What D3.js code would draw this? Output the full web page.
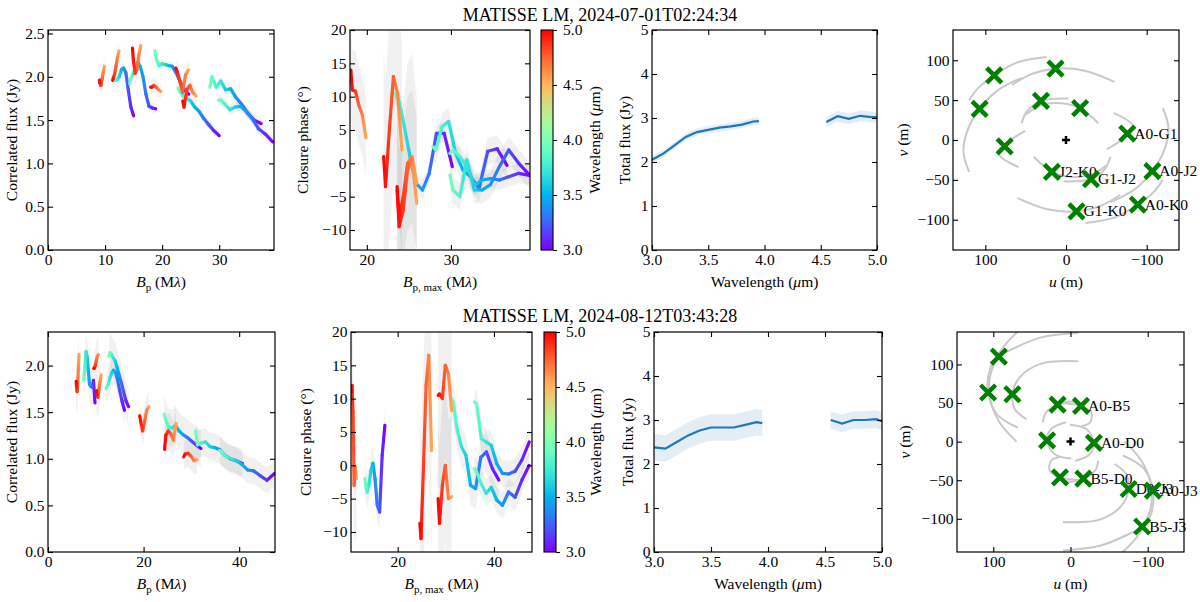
<!DOCTYPE html>
<html>
<head>
<meta charset="utf-8">
<script src="https://cdn.jsdelivr.net/npm/d3@7"></script>
<style>
  body { margin: 0; background: #fff; }
</style>
</head>
<body>
<svg id="fig" width="1200" height="602"></svg>
<script>
// ---- wavelength sampling of the L and M band pieces (micron)
var lamL = [3.0, 3.1, 3.2, 3.3, 3.4, 3.5, 3.6, 3.7, 3.8, 3.9, 3.95];
var lamM = [4.55, 4.65, 4.75, 4.85, 4.95, 5.0];

// ---- 2024-07-01 : correlated flux per baseline (length in m, Jy at each lamL / lamM)
var vis1Names = ["J2-K0", "G1-J2", "A0-G1", "G1-K0", "A0-J2", "A0-K0"];
var vis1Len = [45, 56.6, 74, 90, 112, 118];
var vis1L = [
  [1.55, 1.65, 1.85, 2.05, 2.10, 2.08, 2.00, 1.97, 1.96, 1.98, 2.00],
  [1.63, 1.64, 1.66, 1.80, 2.00, 2.12, 2.17, 2.10, 2.03, 1.98, 1.92],
  [1.80, 1.85, 1.95, 2.05, 2.12, 2.13, 2.14, 2.15, 2.13, 2.20, 2.30],
  [1.32, 1.38, 1.45, 1.52, 1.60, 1.65, 1.72, 1.75, 1.78, 1.83, 1.87],
  [1.46, 1.50, 1.58, 1.68, 1.76, 1.86, 1.85, 1.95, 1.88, 2.00, 1.88],
  [1.25, 1.34, 1.40, 1.52, 1.60, 1.66, 1.65, 1.62, 1.68, 1.73, 1.73]
];
var vis1M = [
  [2.12, 2.05, 1.97, 1.90, 1.93, 1.96],
  [2.30, 2.22, 2.12, 2.03, 1.98, 1.96],
  [2.36, 2.25, 2.08, 2.04, 2.20, 2.33],
  [1.83, 1.85, 1.88, 1.90, 1.88, 1.88],
  [2.08, 2.02, 1.82, 1.95, 2.06, 2.10],
  [1.78, 1.82, 1.90, 1.85, 1.65, 1.72]
];
var vis1ErrL = [0.06, 0.06, 0.05, 0.05, 0.06, 0.06];
var vis1ErrM = [0.10, 0.10, 0.10, 0.08, 0.10, 0.10];

// closure phases per triangle (longest baseline in m, degrees)
var cp1Names = ["G1-J2-K0", "A0-G1-J2", "A0-G1-K0", "A0-J2-K0"];
var cp1Len = [90.5, 110, 118, 118];
var cp1L = [
  [-0.5, 4.5, 4.5, -1.5, -4.0, -3.0, 1.0, 5.5, 9.5, 10.5, 10.2],
  [-0.3, 2.2, 1.8, -3.8, -2.0, -1.0, 1.5, 6.3, 5.5, 2.0, 2.5],
  [-1.75, 0.0, 2.0, -0.5, -3.2, -4.0, -4.0, 0.5, -5.0, -4.0, -1.75],
  [-1.8, -1.5, -2.0, -2.5, -2.3, -2.5, -3.3, -0.5, 1.0, 2.0, 1.5]
];
var cp1M = [
  [3.8, 7.3, 8.7, 10.8, 11.0, 14.0],
  [2.0, 10.5, 13.0, 5.0, -3.5, 1.0],
  [-6.0, 0.5, -1.0, -7.0, -9.5, -4.0],
  [-3.0, 1.0, 0.0, -5.0, -8.0, -3.5]
];
var cp1ErrL = [1.5, 2.0, 2.0, 1.5];
var cp1ErrM = [6, 16, 16, 10];

// total flux (Jy)
var flux1L = [2.05, 2.19, 2.38, 2.57, 2.68, 2.73, 2.78, 2.81, 2.85, 2.92, 2.93];
var flux1M = [2.91, 3.04, 2.98, 3.05, 3.02, 3.02];
var flux1Err = [0.08, 0.12];

// uv coverage (m) and tracks
var uv1Names = ["A0-G1", "A0-J2", "A0-K0", "G1-K0", "J2-K0", "G1-J2"];
var uv1U = [-76, -107, -89, -13, 17.5, -31];
var uv1V = [8, -39, -81, -89.5, -40, -49];
var uv1Tracks = [
  [[-58.8, 34], [-82.7, 18.2], [-76, 8], [-65, -2.5], [-50.6, -11.6]],
  [[-55, -78], [-85, -62], [-107, -39], [-122, -12], [-127, 15], [-120, 40]],
  [[-120, -50], [-108, -66], [-89, -81], [-61, -97], [-24, -104]],
  [[60, -73], [23, -87], [-13, -89.5], [-42, -83], [-67, -69]],
  [[40, -21], [17.5, -40], [-5, -46], [-30, -44], [-50, -32]],
  [[3, -52], [-31, -49], [-48.6, -35.6], [-55, -21]]
];

// ---- 2024-08-12
var vis2Names = ["A0-D0", "A0-B5", "B5-D0", "D0-J3", "A0-J3", "B5-J3"];
var vis2Len = [29.5, 48, 50.6, 96, 122, 142];
var vis2L = [
  [1.60, 1.84, 1.77, 1.78, 1.80, 1.95, 2.10, 2.15, 2.00, 1.90, 1.84],
  [1.52, 1.62, 1.73, 1.85, 1.93, 1.95, 1.92, 1.87, 1.80, 1.77, 1.75],
  [1.56, 1.62, 1.72, 1.82, 1.90, 1.98, 2.05, 2.08, 2.12, 2.14, 2.10],
  [1.11, 1.15, 1.19, 1.23, 1.26, 1.30, 1.36, 1.33, 1.34, 1.42, 1.48],
  [0.95, 0.98, 1.00, 1.04, 1.10, 1.12, 1.13, 1.18, 1.17, 1.15, 1.30],
  [0.84, 0.77, 0.82, 0.87, 0.88, 0.94, 0.98, 1.00, 1.02, 1.07, 1.09]
];
var vis2M = [
  [2.12, 1.95, 1.78, 1.72, 1.78, 1.83],
  [2.12, 2.10, 2.05, 2.00, 1.97, 1.97],
  [1.90, 1.82, 1.74, 1.66, 1.68, 1.73],
  [1.56, 1.52, 1.40, 1.30, 1.40, 1.46],
  [1.38, 1.20, 1.27, 1.30, 1.25, 1.10],
  [0.99, 0.98, 1.03, 1.06, 1.05, 1.02]
];
var vis2ErrL = [0.20, 0.15, 0.20, 0.20, 0.15, 0.14];
var vis2ErrM = [0.25, 0.20, 0.22, 0.15, 0.20, 0.15];

var cp2Names = ["A0-B5-D0", "A0-D0-J3", "B5-D0-J3", "A0-B5-J3"];
var cp2Len = [52, 123, 142, 142];
var cp2L = [
  [6.0, 1.5, -7.0, -6.0, -2.0, 0.3, -0.8, -2.8, -4.0, -3.0, -2.0],
  [-2.2, -0.5, 2.0, 1.2, -3.5, -3.0, 1.5, 2.8, 5.3, 9.5, 10.0],
  [0.0, -2.2, -4.8, -4.0, -6.0, -5.2, -3.3, -4.2, -2.8, -1.0, -0.5],
  [3.5, 0.8, -0.9, -1.3, -1.2, 0.25, 3.0, 3.5, 4.0, 9.2, 9.5]
];
var cp2M = [
  [-2.0, -0.3, -3.0, 8.0, 12.0, 11.0],
  [2.2, 16.5, 12.0, 0.0, -11.0, -8.7],
  [8.2, 13.7, 15.0, 10.0, 10.7, 10.5],
  [-4.7, -5.0, 0.0, -3.0, -8.7, -5.0]
];
var cp2ErrL = [2.5, 3.0, 2.0, 2.0];
var cp2ErrM = [10, 16, 14, 12];

var flux2L = [2.38, 2.35, 2.50, 2.65, 2.76, 2.83, 2.83, 2.83, 2.89, 2.95, 2.93];
var flux2M = [3.00, 2.92, 3.00, 3.00, 3.02, 2.97];
var flux2Err = [0.30, 0.20];

var uv2Names = ["A0-B5", "A0-D0", "B5-D0", "D0-J3", "A0-J3", "B5-J3"];
var uv2U = [-13.6, -30.3, -16.7, -75.3, -106.7, -92.8];
var uv2V = [46.3, -1.7, -48, -61.4, -63.6, -110];
var uv2Tracks = [
  [[20, 50], [-13.6, 46.3], [-27, 37.5], [-25, 24.6], [-14, 20]],
  [[1, 22], [-21, 16], [-30.3, -1.7], [-25, -16.4], [-6, -25]],
  [[20, -42], [3, -51.7], [-16.7, -48], [-31.6, -38], [-36, -25]],
  [[10, -104], [-38, -101], [-66, -83], [-75.3, -61.4], [-72, -42], [-57, -29]],
  [[-60, -150], [-85, -125], [-104, -95], [-106.7, -63.6], [-95, -35], [-68, -18]],
  [[10, -141], [-38, -135], [-75, -120], [-92.8, -110], [-104, -85], [-104, -55], [-92, -25], [-70, 0]]
];

// ---- ticks
var cbTicks = [3.0, 3.5, 4.0, 4.5, 5.0];
var fluxTicksX = [3.0, 3.5, 4.0, 4.5, 5.0];
var fluxTicksY = [0, 1, 2, 3, 4, 5];
var cpTicksY = [-10, -5, 0, 5, 10, 15, 20];
var uvTicksX = [100, 0, -100];
var uvTicksY = [-100, -50, 0, 50, 100];

var FONT = '"Liberation Serif", "Times New Roman", Times, serif';
var FS = 15.5;

var svg = d3.select("#fig");
var defs = svg.append("defs");
var gradCount = 0, clipCount = 0;

// matplotlib "rainbow" colormap, 3-5 micron
function cmap(lam) {
  var t = Math.max(0, Math.min(1, (lam - 3) / 2));
  var r = Math.min(1, Math.abs(2 * t - 0.5)),
      g = Math.sin(Math.PI * t),
      b = Math.cos(Math.PI * t / 2);
  return d3.rgb(r * 255, g * 255, Math.max(0, b) * 255).formatHex();
}

function noLabel() { return ""; }

function makeAxes(x0, x1, y0, y1, xdom, ydom, xt, yt, xf, yf) {
  var x = d3.scaleLinear().domain(xdom).range([x0, x1]);
  var y = d3.scaleLinear().domain(ydom).range([y1, y0]);
  var g = svg.append("g");
  var cid = "clip" + (clipCount++);
  defs.append("clipPath").attr("id", cid).append("rect")
    .attr("x", x0).attr("y", y0).attr("width", x1 - x0).attr("height", y1 - y0);
  var plot = g.append("g").attr("clip-path", "url(#" + cid + ")");
  var axg = g.append("g");

  axg.append("g").attr("transform", "translate(0," + y1 + ")")
    .call(d3.axisBottom(x).tickValues(xt).tickFormat(xf).tickSizeInner(-5).tickSizeOuter(0).tickPadding(4));
  axg.append("g").attr("transform", "translate(0," + y0 + ")")
    .call(d3.axisTop(x).tickValues(xt).tickFormat(noLabel).tickSizeInner(-5).tickSizeOuter(0));
  axg.append("g").attr("transform", "translate(" + x0 + ",0)")
    .call(d3.axisLeft(y).tickValues(yt).tickFormat(yf).tickSizeInner(-5).tickSizeOuter(0).tickPadding(3.5));
  axg.append("g").attr("transform", "translate(" + x1 + ",0)")
    .call(d3.axisRight(y).tickValues(yt).tickFormat(noLabel).tickSizeInner(-5).tickSizeOuter(0));

  axg.selectAll(".domain").remove();
  axg.selectAll(".tick line").attr("stroke", "#000").attr("stroke-width", 1.1);
  axg.selectAll("text").attr("font-family", FONT).attr("font-size", FS).attr("fill", "#000");
  axg.append("rect").attr("x", x0).attr("y", y0).attr("width", x1 - x0).attr("height", y1 - y0)
    .attr("fill", "none").attr("stroke", "#000").attr("stroke-width", 1.2);

  return { x: x, y: y, plot: plot, g: g };
}

// text made of pieces: italic, subscript
function richText(t, parts) {
  parts.forEach(function(p) {
    var s = t.append("tspan").text(p.t);
    if (p.i) s.attr("font-style", "italic");
    if (p.sub) s.attr("font-size", 11).attr("dy", 4);
    if (p.up) s.attr("dy", -4);
  });
  return t;
}

function xLabel(cx, y, parts) {
  var t = svg.append("text").attr("x", cx).attr("y", y).attr("text-anchor", "middle")
    .attr("font-family", FONT).attr("font-size", FS);
  richText(t, parts);
}

function yLabel(x, cy, parts) {
  var t = svg.append("text").attr("transform", "translate(" + x + "," + cy + ") rotate(-90)")
    .attr("text-anchor", "middle").attr("font-family", FONT).attr("font-size", FS);
  richText(t, parts);
}

function gradLine(g, ax, a, b) {
  var id = "lg" + (gradCount++);
  var x1 = ax.x(a.x), y1 = ax.y(a.v), x2 = ax.x(b.x), y2 = ax.y(b.v);
  var lg = defs.append("linearGradient").attr("id", id).attr("gradientUnits", "userSpaceOnUse")
    .attr("x1", x1).attr("y1", y1).attr("x2", x2).attr("y2", y2);
  lg.append("stop").attr("offset", 0).attr("stop-color", cmap(a.lam));
  lg.append("stop").attr("offset", 1).attr("stop-color", cmap(b.lam));
  g.append("line").attr("x1", x1).attr("y1", y1).attr("x2", x2).attr("y2", y2)
    .attr("stroke", "url(#" + id + ")").attr("stroke-width", 3.2).attr("stroke-linecap", "round");
}

// lines vs spatial frequency B/lambda, coloured by wavelength
function drawSpectral(ax, lens, valsL, valsM, errL, errM) {
  var bandG = ax.plot.append("g"), lineG = ax.plot.append("g");
  lens.forEach(function(B, i) {
    [[lamL, valsL[i], errL[i]], [lamM, valsM[i], errM[i]]].forEach(function(pc) {
      var pts = pc[0].map(function(l, j) { return { x: B / l, lam: l, v: pc[1][j], e: pc[2] }; });
      bandG.append("path").datum(pts)
        .attr("d", d3.area()
          .x(function(d) { return ax.x(d.x); })
          .y0(function(d) { return ax.y(d.v - d.e); })
          .y1(function(d) { return ax.y(d.v + d.e); }))
        .attr("fill", "#000").attr("fill-opacity", 0.055);
      for (var j = 0; j < pts.length - 1; j++) gradLine(lineG, ax, pts[j], pts[j + 1]);
    });
  });
}

function drawFlux(ax, fL, fM, err) {
  [[lamL, fL, err[0]], [lamM, fM, err[1]]].forEach(function(pc) {
    var pts = pc[0].map(function(l, j) { return { x: l, v: pc[1][j], e: pc[2] }; });
    ax.plot.append("path").datum(pts)
      .attr("d", d3.area()
        .x(function(d) { return ax.x(d.x); })
        .y0(function(d) { return ax.y(d.v - d.e); })
        .y1(function(d) { return ax.y(d.v + d.e); }))
      .attr("fill", "#1f77b4").attr("fill-opacity", 0.13);
    ax.plot.append("path").datum(pts)
      .attr("d", d3.line().x(function(d) { return ax.x(d.x); }).y(function(d) { return ax.y(d.v); }))
      .attr("fill", "none").attr("stroke", "#1f77b4").attr("stroke-width", 2.2);
  });
}

function drawUV(ax, names, us, vs, tracks) {
  var line = d3.line().curve(d3.curveCatmullRom)
    .x(function(d) { return ax.x(d[0]); }).y(function(d) { return ax.y(d[1]); });
  tracks.forEach(function(tr) {
    var mirror = tr.map(function(p) { return [-p[0], -p[1]]; });
    [tr, mirror].forEach(function(t) {
      ax.plot.append("path").datum(t).attr("d", line)
        .attr("fill", "none").attr("stroke", "#c9c9c9").attr("stroke-width", 2);
    });
  });
  // centre
  var cx = ax.x(0), cy = ax.y(0);
  ax.g.append("path").attr("d", "M" + (cx - 4) + "," + cy + "H" + (cx + 4) + "M" + cx + "," + (cy - 4) + "V" + (cy + 4))
    .attr("stroke", "#000").attr("stroke-width", 2.5);
  var s = 7.5;
  names.forEach(function(n, i) {
    [[us[i], vs[i]], [-us[i], -vs[i]]].forEach(function(p) {
      var px = ax.x(p[0]), py = ax.y(p[1]);
      ax.g.append("path")
        .attr("d", "M" + (px - s) + "," + (py - s) + "L" + (px + s) + "," + (py + s) +
                   "M" + (px - s) + "," + (py + s) + "L" + (px + s) + "," + (py - s))
        .attr("stroke", "#008000").attr("stroke-width", 4.5);
    });
    ax.g.append("text").attr("x", ax.x(us[i]) + 7).attr("y", ax.y(vs[i]) + 5)
      .attr("font-family", FONT).attr("font-size", FS).text(n);
  });
}

function colorbar(x0, x1, y0, y1) {
  var id = "cbgrad" + (gradCount++);
  var lg = defs.append("linearGradient").attr("id", id)
    .attr("x1", 0).attr("y1", 1).attr("x2", 0).attr("y2", 0);
  d3.range(0, 21).forEach(function(k) {
    lg.append("stop").attr("offset", k / 20).attr("stop-color", cmap(3 + k / 10));
  });
  var y = d3.scaleLinear().domain([3, 5]).range([y1, y0]);
  svg.append("rect").attr("x", x0).attr("y", y0).attr("width", x1 - x0).attr("height", y1 - y0)
    .attr("fill", "url(#" + id + ")").attr("stroke", "#000").attr("stroke-width", 1.1);
  var ag = svg.append("g").attr("transform", "translate(" + x1 + ",0)")
    .call(d3.axisRight(y).tickValues(cbTicks).tickFormat(d3.format(".1f")).tickSizeInner(4).tickSizeOuter(0).tickPadding(6));
  ag.select(".domain").remove();
  ag.selectAll(".tick line").attr("stroke", "#000").attr("stroke-width", 1.1);
  ag.selectAll("text").attr("font-family", FONT).attr("font-size", FS).attr("fill", "#000");
}

// ---- layout of the two rows
var rows = [
  { y0: 30, y1: 250, p1: [48, 274], p2: [350, 530], cb: [541, 553], p3: [652, 877], p4: [953, 1179],
    title: "MATISSE LM, 2024-07-01T02:24:34", titleY: 21,
    visX: [0, 39.6], visY: [0, 2.54], visTx: [0, 10, 20, 30], visTy: [0, 0.5, 1.0, 1.5, 2.0, 2.5],
    cpX: [18, 39.4], cpTx: [20, 30], uvX: [140, -140], uvY: [-138, 138],
    vis: [vis1Len, vis1L, vis1M, vis1ErrL, vis1ErrM], cp: [cp1Len, cp1L, cp1M, cp1ErrL, cp1ErrM],
    flux: [flux1L, flux1M, flux1Err], uv: [uv1Names, uv1U, uv1V, uv1Tracks],
    lab: { y1: 17, y2: 308, cb: 600, y3: 630, y4: 908 } },
  { y0: 332, y1: 552, p1: [48, 275], p2: [351, 532], cb: [544, 556], p3: [654, 882], p4: [957, 1184],
    title: "MATISSE LM, 2024-08-12T03:43:28", titleY: 322,
    visX: [0, 47.5], visY: [0, 2.36], visTx: [0, 20, 40], visTy: [0, 0.5, 1.0, 1.5, 2.0],
    cpX: [10.3, 47.9], cpTx: [20, 40], uvX: [147, -147], uvY: [-143, 142],
    vis: [vis2Len, vis2L, vis2M, vis2ErrL, vis2ErrM], cp: [cp2Len, cp2L, cp2M, cp2ErrL, cp2ErrM],
    flux: [flux2L, flux2M, flux2Err], uv: [uv2Names, uv2U, uv2V, uv2Tracks],
    lab: { y1: 17, y2: 311, cb: 601, y3: 633, y4: 910 } }
];

var fmtInt = d3.format("d"), fmt1 = d3.format(".1f");

rows.forEach(function(r) {
  var cy = (r.y0 + r.y1) / 2, xlY = r.y1 + 37;

  // correlated flux
  var a1 = makeAxes(r.p1[0], r.p1[1], r.y0, r.y1, r.visX, r.visY, r.visTx, r.visTy, fmtInt, fmt1);
  drawSpectral(a1, r.vis[0], r.vis[1], r.vis[2], r.vis[3], r.vis[4]);
  yLabel(r.lab.y1, cy, [{ t: "Correlated flux (Jy)" }]);
  xLabel((r.p1[0] + r.p1[1]) / 2, xlY, [{ t: "B", i: 1 }, { t: "p", sub: 1 }, { t: " (M", up: 1 }, { t: "λ", i: 1 }, { t: ")" }]);

  // closure phase
  var a2 = makeAxes(r.p2[0], r.p2[1], r.y0, r.y1, r.cpX, [-13, 20], r.cpTx, cpTicksY, fmtInt, fmtInt);
  drawSpectral(a2, r.cp[0], r.cp[1], r.cp[2], r.cp[3], r.cp[4]);
  yLabel(r.lab.y2, cy, [{ t: "Closure phase (°)" }]);
  xLabel((r.p2[0] + r.p2[1]) / 2, xlY, [{ t: "B", i: 1 }, { t: "p, max", sub: 1 }, { t: " (M", up: 1 }, { t: "λ", i: 1 }, { t: ")" }]);

  colorbar(r.cb[0], r.cb[1], r.y0, r.y1);
  yLabel(r.lab.cb, cy, [{ t: "Wavelength (" }, { t: "μ", i: 1 }, { t: "m)" }]);

  // total flux
  var a3 = makeAxes(r.p3[0], r.p3[1], r.y0, r.y1, [3, 5], [0, 5], fluxTicksX, fluxTicksY, fmt1, fmtInt);
  drawFlux(a3, r.flux[0], r.flux[1], r.flux[2]);
  yLabel(r.lab.y3, cy, [{ t: "Total flux (Jy)" }]);
  xLabel((r.p3[0] + r.p3[1]) / 2, xlY, [{ t: "Wavelength (" }, { t: "μ", i: 1 }, { t: "m)" }]);

  // uv plane
  var a4 = makeAxes(r.p4[0], r.p4[1], r.y0, r.y1, r.uvX, r.uvY, uvTicksX, uvTicksY, fmtInt, fmtInt);
  drawUV(a4, r.uv[0], r.uv[1], r.uv[2], r.uv[3]);
  yLabel(r.lab.y4, cy, [{ t: "v", i: 1 }, { t: " (m)" }]);
  xLabel((r.p4[0] + r.p4[1]) / 2, xlY, [{ t: "u", i: 1 }, { t: " (m)" }]);

  svg.append("text").attr("x", 600).attr("y", r.titleY).attr("text-anchor", "middle")
    .attr("font-family", FONT).attr("font-size", 18).text(r.title);
});
</script>
</body>
</html>
